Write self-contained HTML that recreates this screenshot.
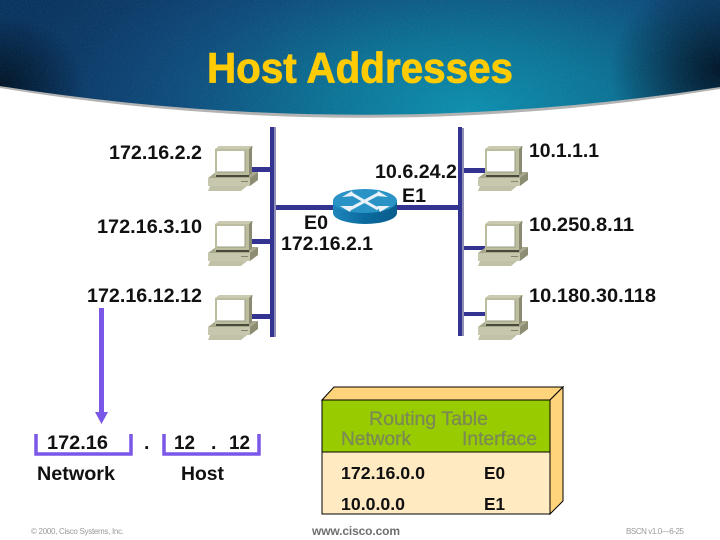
<!DOCTYPE html>
<html><head><meta charset="utf-8"><style>
html,body{margin:0;padding:0;background:#fff;width:720px;height:540px;overflow:hidden}
svg{display:block}
text{font-family:"Liberation Sans",sans-serif}
.l{font-size:19.5px;font-weight:bold;fill:#111}
.g{font-size:19px;fill:#7b8a55;stroke:#7b8a55;stroke-width:.3}
.t{font-size:17.5px;font-weight:bold;fill:#111}
</style></head><body>
<svg width="720" height="540" viewBox="0 0 720 540" xmlns="http://www.w3.org/2000/svg">
<defs>
<radialGradient id="bg" gradientUnits="userSpaceOnUse" cx="470" cy="110" r="1" gradientTransform="translate(470 110) scale(480 230) translate(-470 -110)">
<stop offset="0" stop-color="#0e8fae"/><stop offset=".3" stop-color="#0d7396"/><stop offset=".62" stop-color="#0f4c7c"/><stop offset=".85" stop-color="#0c3a68"/><stop offset="1" stop-color="#0a3460"/>
</radialGradient>
<radialGradient id="cl" gradientUnits="userSpaceOnUse" cx="0" cy="85" r="1" gradientTransform="translate(0 85) scale(85 70) translate(0 -85)"><stop offset="0" stop-color="#011425" stop-opacity=".95"/><stop offset="1" stop-color="#011425" stop-opacity="0"/></radialGradient>
<radialGradient id="cr" gradientUnits="userSpaceOnUse" cx="720" cy="70" r="1" gradientTransform="translate(720 70) scale(110 95) translate(-720 -70)"><stop offset="0" stop-color="#011425" stop-opacity=".95"/><stop offset="1" stop-color="#011425" stop-opacity="0"/></radialGradient>
<linearGradient id="rs" x1="0" x2="1"><stop offset="0" stop-color="#1d86bb"/><stop offset=".5" stop-color="#0b6a9e"/><stop offset="1" stop-color="#0a5d8c"/></linearGradient>
<filter id="tex" x="0" y="0" width="100%" height="100%"><feTurbulence type="fractalNoise" baseFrequency=".7" numOctaves="2" seed="4"/><feColorMatrix values="0 0 0 0 1 0 0 0 0 1 0 0 0 0 1 .5 0 0 0 -.18"/></filter>
<g id="pc">
<path d="M0 31 L8 25 H47 L50 25 L42 31 Z" fill="#a8a88c"/>
<path d="M0 31 H42 V39 H0 Z" fill="#c6c7ad"/>
<path d="M42 31 L50 25 V33 L42 39 Z" fill="#8d8d74"/>
<path d="M2 39 H39 L33 44 H0 Z" fill="#c0c1a6"/>
<path d="M7 2 L11 -1 H45 L44 3 Z" fill="#c9caaf"/>
<path d="M7 2 H41 V29 H7 Z" fill="#bcbd9f"/>
<path d="M41 2 L44 -1 V26 L41 29 Z" fill="#8a8a72"/>
<rect x="9" y="4" width="28" height="21" fill="#fff"/>
<path d="M9 25 H37 V4" fill="none" stroke="#9a9b82" stroke-width="1"/>
<rect x="8" y="28" width="33" height="2" fill="#4a4a3c"/>
<rect x="33" y="34" width="7" height="1" fill="#85856c"/>
</g>
</defs>

<!-- banner -->
<path d="M0 0 H720 V87 Q360 145 0 86 Z" fill="#9a9a9a" transform="translate(0 2)" opacity=".75"/>
<path d="M0 0 H720 V87 Q360 143 0 86 Z" fill="url(#bg)"/>
<path d="M0 0 H720 V87 Q360 143 0 86 Z" fill="url(#cl)"/>
<path d="M0 0 H720 V87 Q360 143 0 86 Z" fill="url(#cr)"/>
<g style="clip-path:path('M0 0 H720 V87 Q360 143 0 86 Z')"><rect width="720" height="120" filter="url(#tex)" opacity=".22"/></g>
<text x="207" y="82.5" font-weight="bold" fill="#ffcb05" stroke="#ffcb05" stroke-width=".8" textLength="306" lengthAdjust="spacingAndGlyphs" style="font-size:43px">Host Addresses</text>

<!-- buses -->
<rect x="274" y="127" width="2" height="210" fill="#8f8fb3"/>
<rect x="270" y="127" width="4" height="210" fill="#333391"/>
<rect x="462" y="128" width="2" height="208" fill="#8f8fb3"/>
<rect x="458" y="127" width="4" height="209" fill="#333391"/>
<g fill="#333391">
<rect x="250" y="167" width="20" height="5"/>
<rect x="250" y="239" width="20" height="5"/>
<rect x="250" y="314" width="20" height="5"/>
<rect x="464" y="168" width="22" height="5"/>
<rect x="464" y="246" width="22" height="4"/>
<rect x="464" y="312" width="22" height="4"/>
<rect x="276" y="205" width="58" height="5"/>
<rect x="394" y="205" width="64" height="5"/>
</g>

<!-- computers -->
<use href="#pc" x="208" y="147"/>
<use href="#pc" x="208" y="222"/>
<use href="#pc" x="208" y="296"/>
<use href="#pc" x="478" y="147"/>
<use href="#pc" x="478" y="222"/>
<use href="#pc" x="478" y="296"/>

<!-- router -->
<path d="M333 201 V213 A32 11 0 0 0 397 213 V201 Z" fill="url(#rs)"/>
<ellipse cx="365" cy="201" rx="32" ry="12" fill="#2a93c6"/>
<g stroke="#e8f2f8" stroke-width="3" fill="none">
<path d="M350 193 L378 209"/><path d="M380 193 L350 209"/>
</g>
<path d="M342 197 L352 191 L354 196 Z M388 197 L378 191 L376 196 Z M340 206 L350 212 L353 206 Z M390 206 L380 212 L377 206 Z" fill="#e8f2f8"/>

<!-- labels -->
<text class="l" x="109" y="159" textLength="93" lengthAdjust="spacingAndGlyphs">172.16.2.2</text>
<text class="l" x="97" y="233" textLength="105" lengthAdjust="spacingAndGlyphs">172.16.3.10</text>
<text class="l" x="87" y="302" textLength="115" lengthAdjust="spacingAndGlyphs">172.16.12.12</text>
<text class="l" x="375" y="178" textLength="82" lengthAdjust="spacingAndGlyphs">10.6.24.2</text>
<text class="l" x="402" y="202" textLength="24" lengthAdjust="spacingAndGlyphs">E1</text>
<text class="l" x="304" y="229" textLength="24" lengthAdjust="spacingAndGlyphs">E0</text>
<text class="l" x="281" y="250" textLength="92" lengthAdjust="spacingAndGlyphs">172.16.2.1</text>
<text class="l" x="529" y="157" textLength="70" lengthAdjust="spacingAndGlyphs">10.1.1.1</text>
<text class="l" x="529" y="231" textLength="105" lengthAdjust="spacingAndGlyphs">10.250.8.11</text>
<text class="l" x="529" y="302" textLength="127" lengthAdjust="spacingAndGlyphs">10.180.30.118</text>

<!-- arrow -->
<rect x="99" y="308" width="5" height="106" fill="#7b57e8"/>
<path d="M95 412 H108 L101.5 424 Z" fill="#7b57e8"/>

<!-- brackets -->
<g fill="none" stroke="#7b57e8" stroke-width="3.5">
<path d="M36 434 V454 H131 V434"/>
<path d="M164 434 V454 H259 V434"/>
</g>
<text class="l" x="47" y="449" textLength="61" lengthAdjust="spacingAndGlyphs">172.16</text>
<text class="l" x="144" y="449" textLength="6">.</text>
<text class="l" x="174" y="449" textLength="21" lengthAdjust="spacingAndGlyphs">12</text>
<text class="l" x="211" y="449" textLength="6">.</text>
<text class="l" x="229" y="449" textLength="21" lengthAdjust="spacingAndGlyphs">12</text>
<text class="l" x="37" y="480" textLength="78" lengthAdjust="spacingAndGlyphs">Network</text>
<text class="l" x="181" y="480" textLength="43" lengthAdjust="spacingAndGlyphs">Host</text>

<!-- routing table -->
<path d="M322 400 L334 387 H563 L550 400 Z" fill="#ffd47a" stroke="#000" stroke-width="1"/>
<path d="M550 400 L563 387 V501 L550 514 Z" fill="#ffd47a" stroke="#000" stroke-width="1"/>
<rect x="322" y="400" width="228" height="114" fill="#ffeac2" stroke="#000" stroke-width="1"/>
<rect x="322" y="400" width="228" height="52" fill="#99cc00" stroke="#000" stroke-width="1"/>
<text class="g" x="369" y="425" textLength="119" lengthAdjust="spacingAndGlyphs">Routing Table</text>
<text class="g" x="341" y="445" textLength="70" lengthAdjust="spacingAndGlyphs">Network</text>
<text class="g" x="462" y="445" textLength="75" lengthAdjust="spacingAndGlyphs">Interface</text>
<text class="t" x="341" y="479" textLength="84" lengthAdjust="spacingAndGlyphs">172.16.0.0</text>
<text class="t" x="484" y="479" textLength="21" lengthAdjust="spacingAndGlyphs">E0</text>
<text class="t" x="341" y="510" textLength="64" lengthAdjust="spacingAndGlyphs">10.0.0.0</text>
<text class="t" x="484" y="510" textLength="21" lengthAdjust="spacingAndGlyphs">E1</text>

<!-- footer -->
<text x="31" y="534" font-size="8" fill="#999" textLength="93">© 2000, Cisco Systems, Inc.</text>
<text x="312" y="535" font-size="12" font-weight="bold" fill="#6f6f6f" textLength="88">www.cisco.com</text>
<text x="626" y="534" font-size="8" fill="#999" textLength="58">BSCN v1.0—6-25</text>
</svg>
</body></html>
